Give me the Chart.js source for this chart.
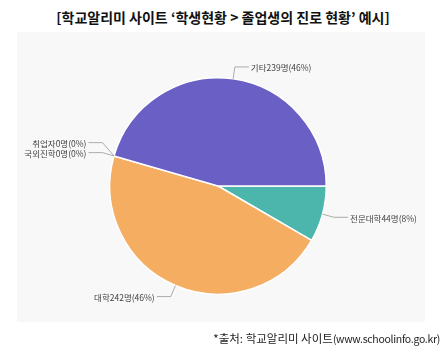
<!DOCTYPE html>
<html>
<head>
<meta charset="utf-8">
<script src="https://cdn.jsdelivr.net/npm/chart.js@4"></script>
<style>
    body { margin: 0; background: #fff; font-family: "Noto Sans CJK KR", sans-serif; }
    #wrap { position: relative; width: 446px; height: 351px; overflow: hidden; }
    #title { position: absolute; left: 0; top: 7px; width: 446px; text-align: center;
             font-size: 14px; font-weight: bold; color: #111; line-height: 20px; }
    #panel { position: absolute; left: 17px; top: 32px; width: 408px; height: 290px; background: #f8f8f8; }
    #pie { position: absolute; left: 0; top: 0; }
    #source { position: absolute; right: 6px; top: 329px; font-size: 11.5px; color: #222; line-height: 18px; }
    #source span { font-size: 10.5px; letter-spacing: -0.3px; }
</style>
</head>
<body>
<div id="wrap">
    <div id="title">[학교알리미 사이트 ‘학생현황 &gt; 졸업생의 진로 현황’ 예시]</div>
    <div id="panel"></div>
    <canvas id="pie" width="446" height="351"></canvas>
    <div id="source">*출처: 학교알리미 사이트<span>(www.schoolinfo.go.kr)</span></div>
</div>
<script>
document.addEventListener("DOMContentLoaded", () => {

    // ---------------------------
    // DATA
    // ---------------------------
    const categories = ["전문대학", "대학", "국외진학", "취업자", "기타"];
    const students = [44, 242, 0, 0, 239];
    const sliceColors = ["#4db6ac", "#f5ad62", "#f5ad62", "#6a5fc4", "#6a5fc4"];

    const total = students.reduce((a, b) => a + b, 0);

    // ---------------------------
    // Leader line labels
    // ---------------------------
    const leaderLabels = {
        id: "leaderLabels",
        afterDatasetsDraw(chart) {
            const ctx = chart.ctx;
            const arcs = chart.getDatasetMeta(0).data;
            let lastLeftY = null;
            ctx.save();
            ctx.font = "8.5px 'Noto Sans CJK KR', sans-serif";
            ctx.fillStyle = "#444";
            ctx.strokeStyle = "#999";
            ctx.lineWidth = 0.8;
            ctx.textBaseline = "middle";
            arcs.forEach((arc, i) => {
                const { x, y, startAngle, endAngle, outerRadius } = arc.getProps(
                    ["x", "y", "startAngle", "endAngle", "outerRadius"], true);
                const mid = (startAngle + endAngle) / 2;
                const cos = Math.cos(mid), sin = Math.sin(mid);
                const ex = x + cos * outerRadius, ey = y + sin * outerRadius;
                let bx = x + cos * (outerRadius + 12);
                let by = y + sin * (outerRadius + 12);
                const right = cos >= 0;
                if (!right) {
                    if (lastLeftY !== null && Math.abs(by - lastLeftY) < 10) {
                        by = lastLeftY - 10;
                    }
                    lastLeftY = by;
                }
                const hx = bx + (right ? 14 : -14);
                ctx.beginPath();
                ctx.moveTo(ex, ey);
                ctx.lineTo(bx, by);
                ctx.lineTo(hx, by);
                ctx.stroke();
                const pct = Math.round(students[i] / total * 100);
                const text = categories[i] + students[i] + "명(" + pct + "%)";
                ctx.textAlign = right ? "left" : "right";
                ctx.fillText(text, hx + (right ? 2 : -2), by + 1);
            });
            ctx.restore();
        }
    };

    // ---------------------------
    // PIE CHART
    // ---------------------------
    new Chart(document.getElementById("pie").getContext("2d"), {
        type: "pie",
        data: {
            labels: categories,
            datasets: [{
                data: students,
                backgroundColor: sliceColors,
                borderColor: "#ffffff",
                borderWidth: 1.5
            }]
        },
        options: {
            responsive: false,
            animation: false,
            rotation: 90,
            layout: { padding: { left: 0, right: 10, top: 77, bottom: 56 } },
            plugins: {
                legend: { display: false },
                tooltip: { enabled: false }
            }
        },
        plugins: [leaderLabels]
    });

});
</script>
</body>
</html>
